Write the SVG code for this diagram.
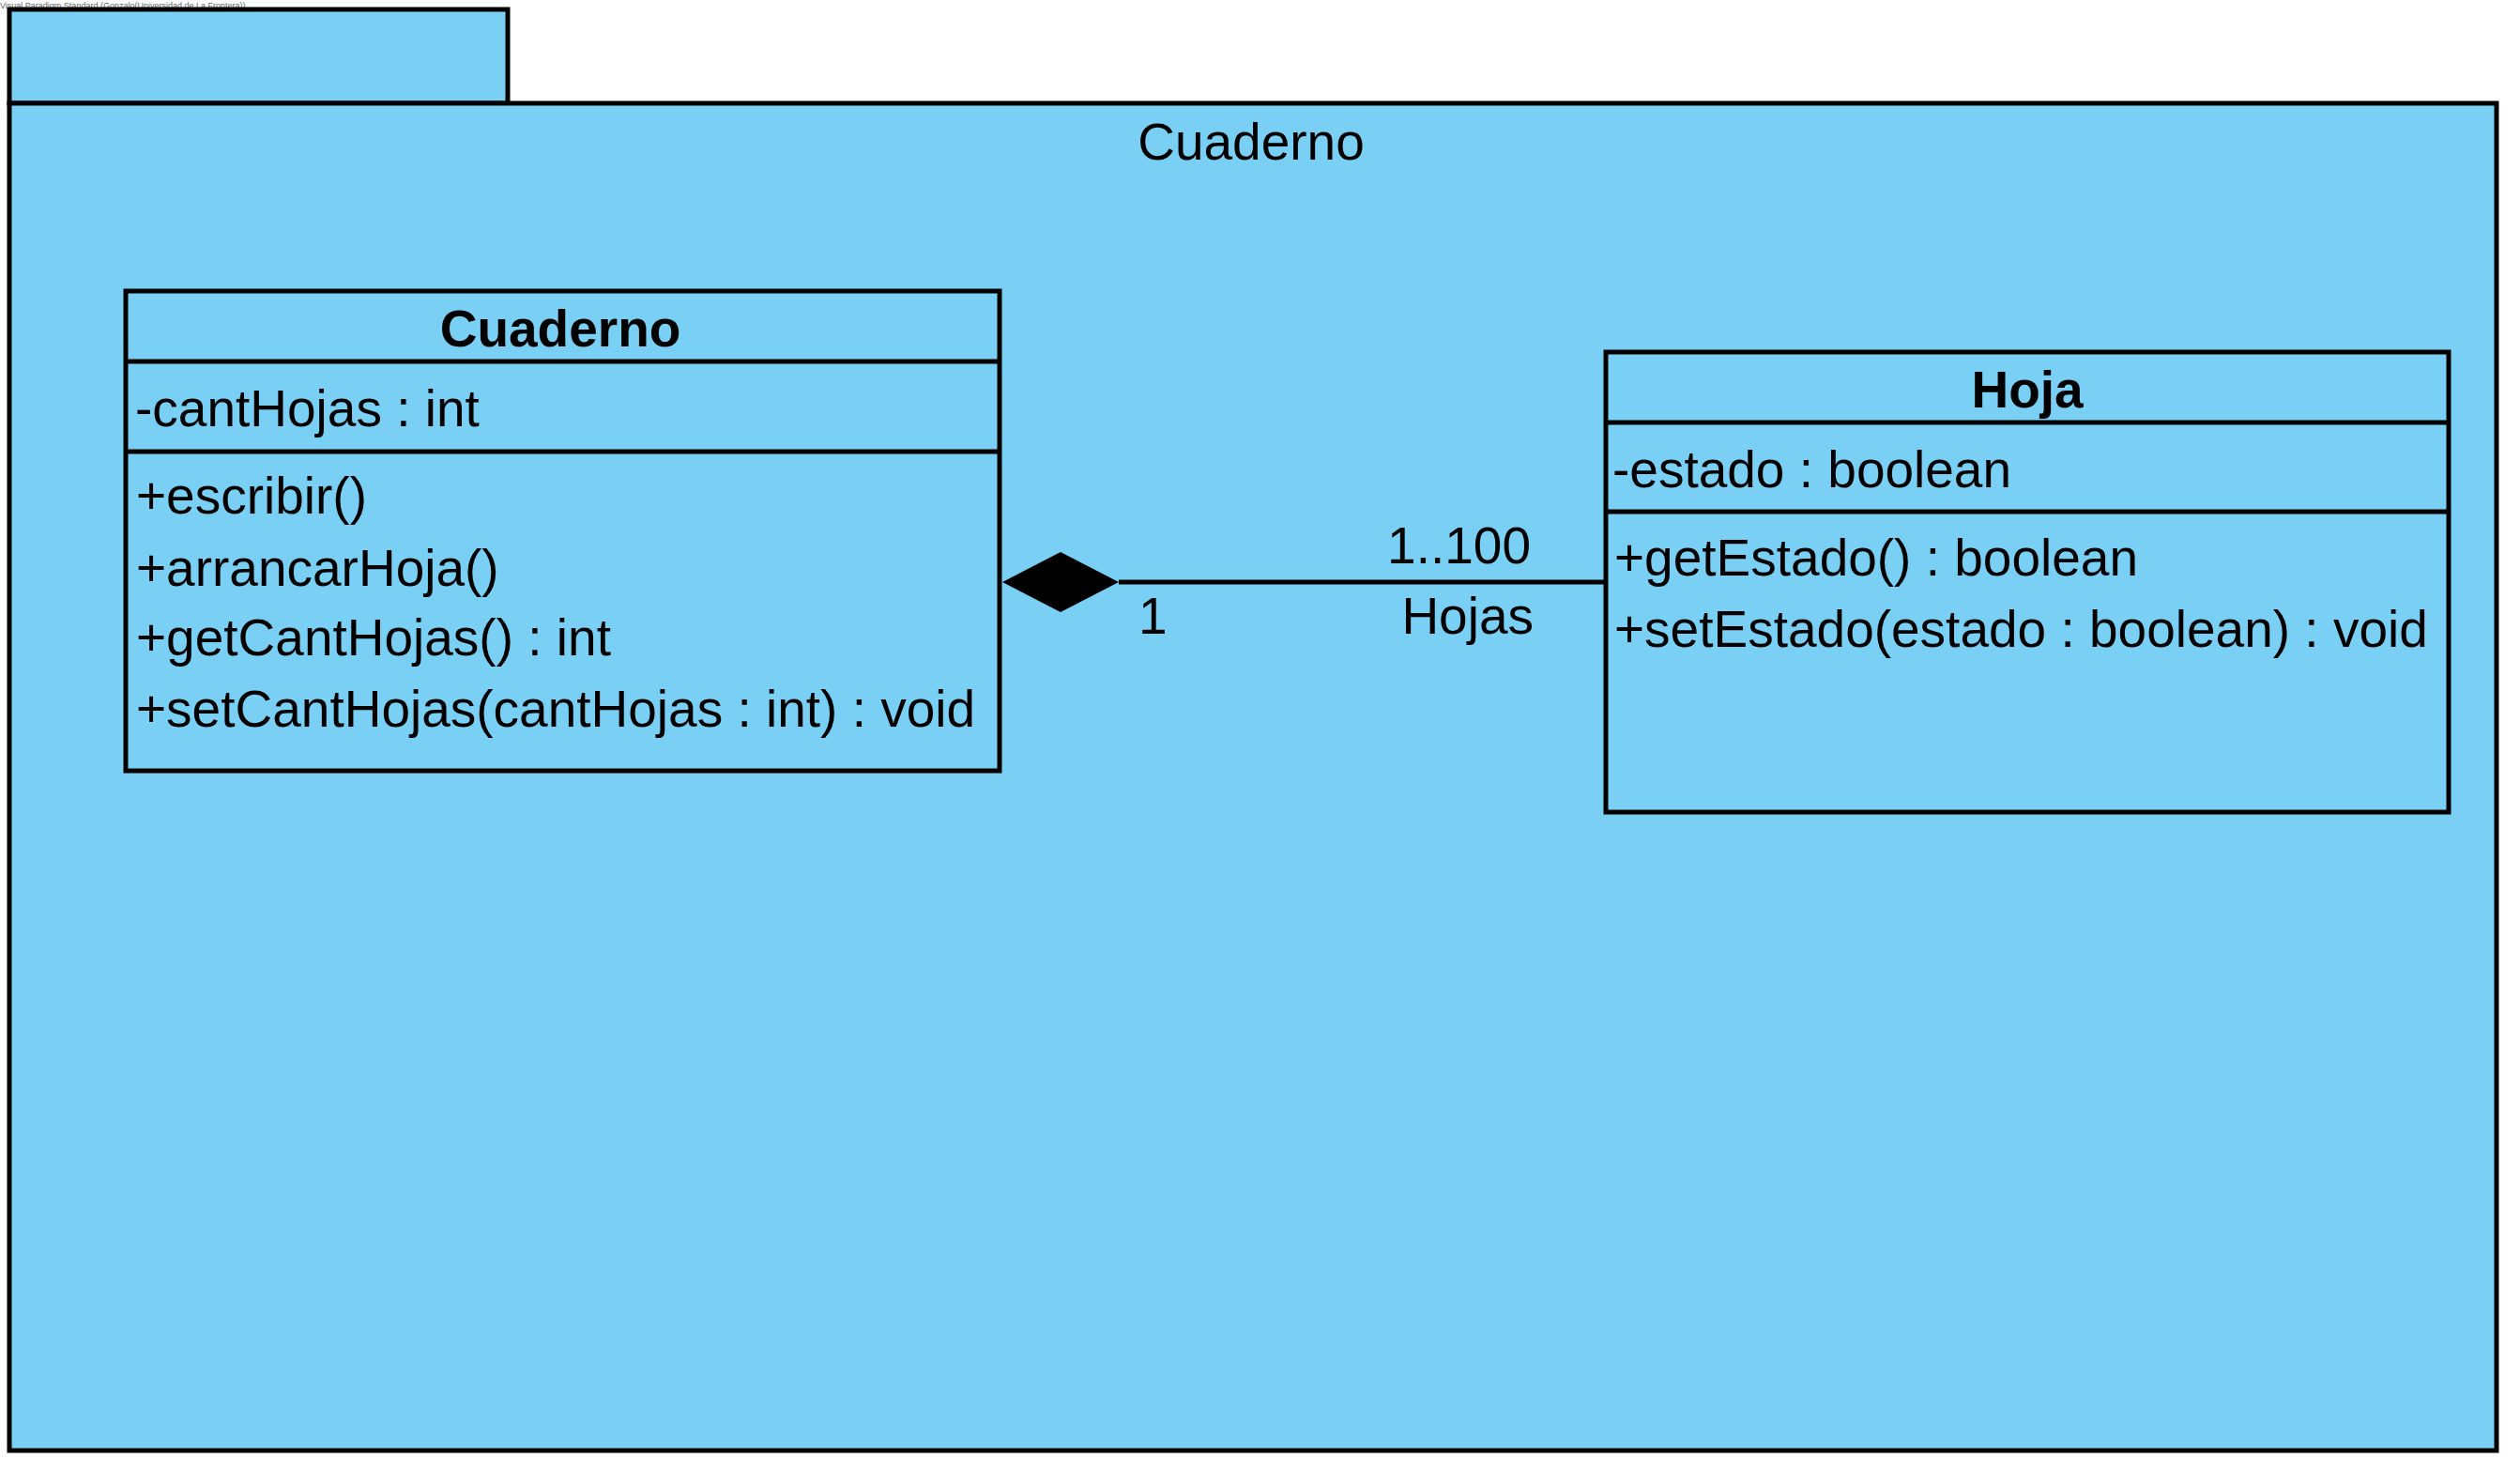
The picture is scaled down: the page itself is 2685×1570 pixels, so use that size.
<svg xmlns="http://www.w3.org/2000/svg" width="2685" height="1570" viewBox="0 0 2685 1570">
<style>
.pkg{fill:#7ACFF4;stroke:#000;stroke-width:5}
.box{fill:none;stroke:#000;stroke-width:5}
.t{font-family:"Liberation Sans",Arial,sans-serif;font-size:55px;fill:#000}
.b{font-weight:bold}
.wm{font-family:"Liberation Sans",Arial,sans-serif;font-size:9px;fill:#666}
</style>
<rect width="2685" height="1570" fill="#fff"/>
<text class="wm" x="0" y="9">Visual Paradigm Standard (Gonzalo(Universidad de La Frontera))</text>
<g id="pkg-Cuaderno">
<rect class="pkg" x="10" y="10" width="531" height="100"/>
<rect class="pkg" x="10" y="110" width="2650" height="1435"/>
<text class="t" x="1333" y="170" text-anchor="middle">Cuaderno</text>
</g>
<g id="class-Cuaderno">
<rect class="box" x="134" y="310" width="931" height="511"/>
<line class="box" x1="134" y1="385" x2="1065" y2="385"/>
<line class="box" x1="134" y1="481" x2="1065" y2="481"/>
<text class="t b" x="597" y="369" text-anchor="middle">Cuaderno</text>
<text class="t" x="144" y="454">-cantHojas : int</text>
<text class="t" x="145" y="547">+escribir()</text>
<text class="t" x="145" y="624">+arrancarHoja()</text>
<text class="t" x="145" y="698">+getCantHojas() : int</text>
<text class="t" x="145" y="774">+setCantHojas(cantHojas : int) : void</text>
</g>
<g id="class-Hoja">
<rect class="box" x="1711" y="375" width="898" height="490"/>
<line class="box" x1="1711" y1="450" x2="2609" y2="450"/>
<line class="box" x1="1711" y1="545" x2="2609" y2="545"/>
<text class="t b" x="2160" y="434" text-anchor="middle">Hoja</text>
<text class="t" x="1718" y="519">-estado : boolean</text>
<text class="t" x="1720" y="613">+getEstado() : boolean</text>
<text class="t" x="1720" y="689">+setEstado(estado : boolean) : void</text>
</g>
<g id="connectors">
<line x1="1192" y1="620" x2="1709" y2="620" stroke="#000" stroke-width="5"/>
<polygon points="1068,620 1130,588 1192,620 1130,652" fill="#000"/>
<text class="t" x="1631" y="600" text-anchor="end">1..100</text>
<text class="t" x="1213" y="675">1</text>
<text class="t" x="1634" y="675" text-anchor="end">Hojas</text>
</g>
</svg>
